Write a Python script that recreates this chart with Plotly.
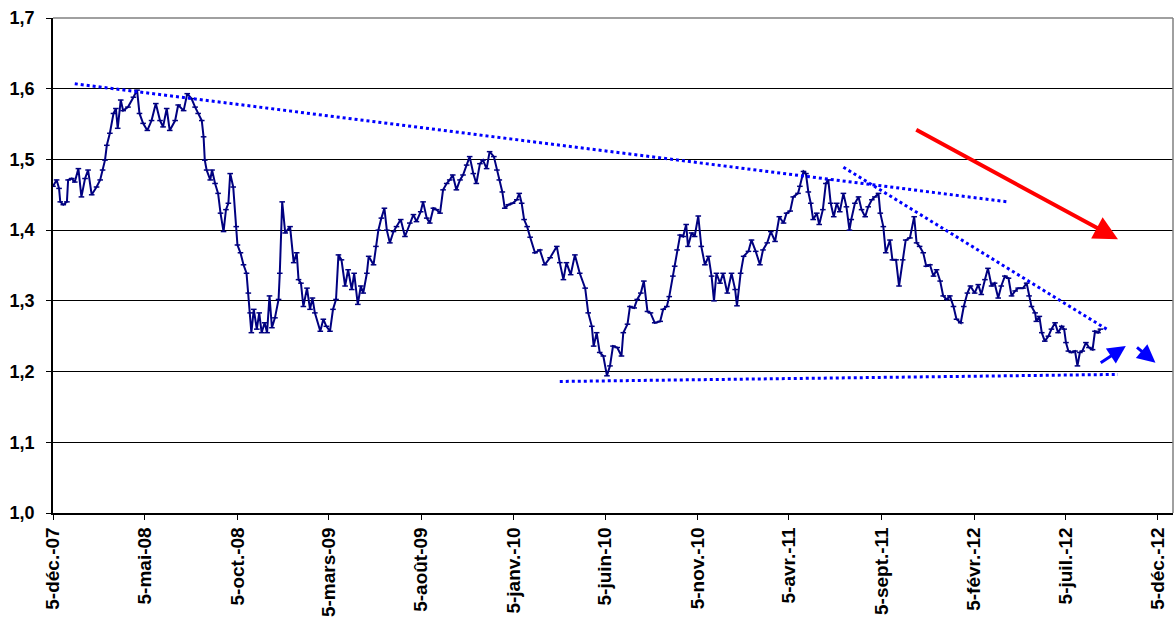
import pandas as pd
import plotly.graph_objects as go

# EUR/USD, jours depuis le 5 déc. 2007
start = pd.Timestamp("2007-12-05")
day_offset = [
    0, 6, 10, 12, 17, 23, 25, 31, 36, 42,
    47, 53, 58, 64, 72, 78, 82, 86, 89, 94,
    100, 104, 107, 112, 116, 124, 133, 139, 143, 149,
    156, 163, 170, 177, 182, 188, 193, 202, 207, 216,
    222, 229, 235, 240, 246, 249, 251, 254, 260, 263,
    268, 273, 277, 282, 286, 290, 293, 298, 303, 305,
    310, 315, 320, 323, 326, 328, 332, 337, 341, 345,
    350, 354, 358, 362, 367, 373, 375, 379, 384, 392,
    398, 403, 406, 410, 414, 420, 425, 429, 433, 442,
    447, 452, 458, 463, 468, 472, 477, 483, 488, 494,
    498, 504, 509, 513, 519, 522, 530, 534, 538, 543,
    548, 552, 557, 563, 568, 575, 582, 590, 596, 601,
    608, 612, 618, 623, 629, 634, 640, 645, 651, 656,
    661, 667, 673, 678, 684, 689, 695, 700, 706, 711,
    717, 722, 729, 734, 738, 743, 747, 753, 760, 767,
    771, 775, 779, 784, 789, 797, 805, 813, 822, 833,
    838, 844, 849, 856, 863, 871, 880, 885, 891, 894,
    899, 904, 910, 916, 921, 926, 933, 940, 943, 950,
    954, 961, 966, 972, 977, 983, 988, 995, 1004, 1009,
    1015, 1019, 1025, 1028, 1032, 1037, 1042, 1047, 1050, 1056,
    1061, 1067, 1072, 1078, 1084, 1089, 1093, 1097, 1103, 1108,
    1115, 1122, 1128, 1131, 1137, 1142, 1150, 1155, 1162, 1169,
    1174, 1181, 1187, 1194, 1201, 1208, 1213, 1219, 1224, 1232,
    1235, 1241, 1245, 1249, 1253, 1257, 1263, 1267, 1273, 1278,
    1282, 1286, 1291, 1296, 1301, 1307, 1312, 1317, 1320, 1326,
    1332, 1337, 1343, 1348, 1354, 1359, 1365, 1368, 1373, 1377,
    1384, 1388, 1394, 1399, 1405, 1410, 1417, 1424, 1428, 1433,
    1439, 1444, 1450, 1456, 1461, 1467, 1472, 1478, 1483, 1489,
    1494, 1501, 1506, 1512, 1517, 1524, 1530, 1535, 1541, 1546,
    1552, 1557, 1563, 1568, 1574, 1580, 1585, 1591, 1596, 1604,
    1610, 1614, 1618, 1624, 1626, 1631, 1635, 1640, 1646, 1651,
    1657, 1662, 1668, 1672, 1675, 1679, 1684, 1690, 1694, 1698,
    1702, 1708, 1713, 1719, 1723, 1728, 1732,
]
eurusd = [
    1.462, 1.471, 1.459, 1.440, 1.436, 1.440, 1.471, 1.473, 1.468, 1.487,
    1.447, 1.473, 1.485, 1.450, 1.461, 1.471, 1.485, 1.499, 1.520, 1.537,
    1.565, 1.572, 1.544, 1.584, 1.569, 1.574, 1.588, 1.598, 1.565, 1.551,
    1.541, 1.555, 1.579, 1.555, 1.546, 1.572, 1.541, 1.555, 1.577, 1.569,
    1.593, 1.586, 1.574, 1.565, 1.555, 1.532, 1.499, 1.485, 1.471, 1.485,
    1.466, 1.452, 1.424, 1.398, 1.429, 1.438, 1.480, 1.461, 1.405, 1.379,
    1.368, 1.351, 1.339, 1.311, 1.283, 1.255, 1.288, 1.260, 1.283, 1.255,
    1.269, 1.255, 1.307, 1.262, 1.276, 1.302, 1.339, 1.440, 1.396, 1.405,
    1.354, 1.368, 1.330, 1.325, 1.292, 1.318, 1.288, 1.304, 1.283, 1.257,
    1.274, 1.264, 1.257, 1.288, 1.302, 1.365, 1.358, 1.321, 1.344, 1.316,
    1.339, 1.295, 1.321, 1.311, 1.339, 1.363, 1.351, 1.377, 1.400, 1.417,
    1.431, 1.400, 1.382, 1.398, 1.405, 1.415, 1.391, 1.410, 1.422, 1.412,
    1.426, 1.440, 1.417, 1.410, 1.431, 1.429, 1.424, 1.457, 1.466, 1.471,
    1.478, 1.457, 1.471, 1.478, 1.492, 1.504, 1.480, 1.466, 1.494, 1.499,
    1.487, 1.511, 1.504, 1.485, 1.471, 1.454, 1.431, 1.436, 1.438, 1.443,
    1.452, 1.438, 1.415, 1.405, 1.390, 1.368, 1.372, 1.351, 1.361, 1.377,
    1.354, 1.330, 1.354, 1.337, 1.365, 1.339, 1.318, 1.283, 1.264, 1.236,
    1.255, 1.227, 1.222, 1.194, 1.208, 1.236, 1.234, 1.222, 1.255, 1.267,
    1.292, 1.290, 1.302, 1.311, 1.328, 1.285, 1.283, 1.269, 1.271, 1.288,
    1.292, 1.306, 1.335, 1.349, 1.372, 1.393, 1.391, 1.408, 1.377, 1.396,
    1.391, 1.420, 1.377, 1.351, 1.363, 1.335, 1.300, 1.339, 1.325, 1.339,
    1.311, 1.339, 1.316, 1.293, 1.339, 1.363, 1.370, 1.386, 1.370, 1.351,
    1.372, 1.382, 1.398, 1.384, 1.419, 1.410, 1.424, 1.427, 1.447, 1.452,
    1.462, 1.483, 1.480, 1.454, 1.438, 1.415, 1.424, 1.408, 1.429, 1.466,
    1.471, 1.438, 1.419, 1.438, 1.426, 1.452, 1.433, 1.400, 1.415, 1.438,
    1.447, 1.429, 1.419, 1.433, 1.443, 1.447, 1.452, 1.424, 1.405, 1.368,
    1.386, 1.358, 1.358, 1.321, 1.358, 1.386, 1.389, 1.419, 1.382, 1.377,
    1.368, 1.349, 1.351, 1.335, 1.344, 1.328, 1.307, 1.302, 1.307, 1.292,
    1.274, 1.269, 1.292, 1.311, 1.321, 1.311, 1.323, 1.309, 1.330, 1.346,
    1.321, 1.325, 1.304, 1.321, 1.335, 1.332, 1.307, 1.314, 1.318, 1.318,
    1.325, 1.307, 1.292, 1.283, 1.271, 1.278, 1.255, 1.243, 1.250, 1.260,
    1.269, 1.255, 1.264, 1.260, 1.241, 1.229, 1.227, 1.229, 1.208, 1.227,
    1.229, 1.241, 1.234, 1.231, 1.257, 1.255, 1.260,
]

# lignes de tendance (pointillés)
trend_top_x = ["2008-01-10", "2012-04-01"]
trend_top_y = [1.607, 1.440]
trend_steep_x = ["2011-07-04", "2012-09-15"]
trend_steep_y = [1.489, 1.258]
trend_low_x = ["2010-03-22", "2012-09-30"]
trend_low_y = [1.186, 1.196]

# flèches : (départ x, départ y, pointe x, pointe y, couleur, épaisseur)
arrows = [
    ("2011-10-30", 1.543, "2012-09-30", 1.387, "#FF0000", 4),
    ("2012-08-30", 1.211, "2012-10-13", 1.236, "#0000FF", 3),
    ("2012-10-29", 1.236, "2012-12-01", 1.2125, "#0000FF", 3),
]

tick_dates = ["2007-12-05", "2008-05-05", "2008-10-05", "2009-03-05", "2009-08-05",
              "2010-01-05", "2010-06-05", "2010-11-05", "2011-04-05", "2011-09-05",
              "2012-02-05", "2012-07-05", "2012-12-05"]
tick_labels = ["5-déc.-07", "5-mai-08", "5-oct.-08", "5-mars-09", "5-août-09",
               "5-janv.-10", "5-juin-10", "5-nov.-10", "5-avr.-11", "5-sept.-11",
               "5-févr.-12", "5-juil.-12", "5-déc.-12"]

dates = start + pd.to_timedelta(day_offset, unit="D")

fig = go.Figure()
fig.add_trace(go.Scatter(
    x=dates, y=eurusd, mode="lines+markers",
    line=dict(color="#000080", width=2),
    marker=dict(symbol="line-ew", size=4, line=dict(color="#000080", width=1.5)),
    hoverinfo="skip",
))
for tx, ty in [(trend_top_x, trend_top_y), (trend_steep_x, trend_steep_y), (trend_low_x, trend_low_y)]:
    fig.add_trace(go.Scatter(
        x=tx, y=ty, mode="lines",
        line=dict(color="#0000FF", width=3, dash="dot"),
        hoverinfo="skip",
    ))

for ax0, ay0, x1, y1, col, w in arrows:
    fig.add_annotation(
        x=x1, y=y1, ax=ax0, ay=ay0, xref="x", yref="y", axref="x", ayref="y",
        text="", showarrow=True, arrowhead=2, arrowsize=1.2, arrowwidth=w, arrowcolor=col,
    )

tick_font = dict(family="Liberation Sans, Arial", color="black", weight="bold")

fig.update_layout(
    width=1175, height=625,
    margin=dict(l=53, r=2, t=18, b=112),
    paper_bgcolor="white", plot_bgcolor="white",
    showlegend=False,
    separators=", ",
    xaxis=dict(
        type="date",
        range=["2007-12-05", "2012-12-30"],
        tickmode="array", tickvals=tick_dates, ticktext=tick_labels,
        tickangle=-90, tickfont=dict(size=19, **tick_font),
        ticks="outside", ticklen=5, tickcolor="black",
        showline=True, linecolor="black", linewidth=1.5,
        showgrid=False, zeroline=False, automargin=False,
    ),
    yaxis=dict(
        range=[1.0, 1.7],
        tickmode="array", tickvals=[1.0, 1.1, 1.2, 1.3, 1.4, 1.5, 1.6, 1.7],
        tickformat=".1f", tickfont=dict(size=18, **tick_font),
        ticks="outside", ticklen=5, tickcolor="black",
        showline=True, linecolor="black", linewidth=1.5,
        showgrid=True, gridcolor="black", gridwidth=1,
        zeroline=False, ticklabelstandoff=8, automargin=False,
    ),
    shapes=[dict(type="line", xref="paper", yref="paper", x0=1, x1=1, y0=0, y1=1,
                 line=dict(color="#808080", width=1.5)),
            dict(type="line", xref="paper", yref="paper", x0=0, x1=1, y0=1, y1=1,
                 line=dict(color="#808080", width=1.5))],
)

# la page HTML a une marge de 8 px par défaut : on la supprime
fig.write_html("out.html", config={"displayModeBar": False},
               post_script="document.body.style.margin='0';")
